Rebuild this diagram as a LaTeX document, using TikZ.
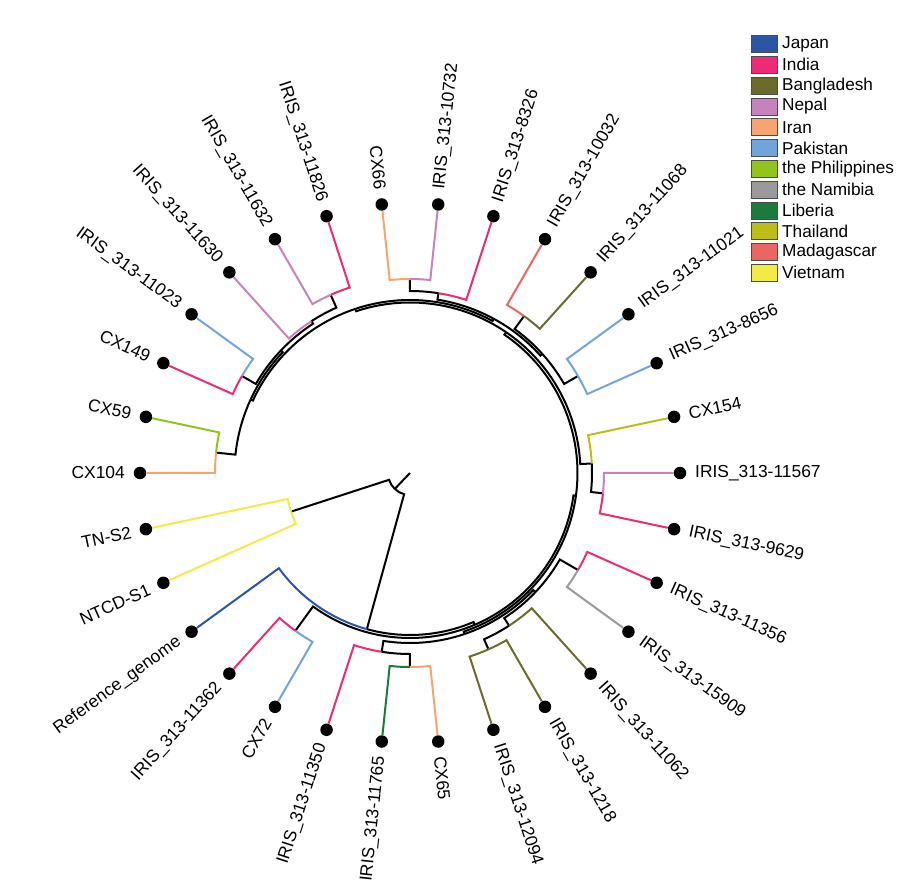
\documentclass[tikz,border=0pt]{standalone}
\usepackage{fontspec}
\setmainfont{Liberation Sans}
\definecolor{japan}{HTML}{2B55A5}
\definecolor{india}{HTML}{EC2A78}
\definecolor{bangla}{HTML}{6B6B2B}
\definecolor{nepal}{HTML}{C682BA}
\definecolor{iran}{HTML}{F7A570}
\definecolor{pakistan}{HTML}{72A4DC}
\definecolor{phil}{HTML}{92C41E}
\definecolor{namibia}{HTML}{9A9A9A}
\definecolor{liberia}{HTML}{1B7A3C}
\definecolor{thai}{HTML}{BDBD1A}
\definecolor{madag}{HTML}{EA6663}
\definecolor{vietnam}{HTML}{F4EA45}

\begin{document}
\begin{tikzpicture}[x=1pt, y=1pt,
  br/.style={line width=2pt},
  leafdot/.style={circle, fill=black, minimum size=12.5pt, inner sep=0pt},
  leaflab/.style={font=\fontsize{17.4}{20}\selectfont, inner sep=0pt},
  keybox/.style={draw=black!70, line width=0.7pt, minimum width=26pt,
    minimum height=17pt, inner sep=0pt},
  keytext/.style={font=\fontsize{17.2}{20}\selectfont, anchor=west, inner sep=0pt}]
  \useasboundingbox (-410,-416) rectangle (498,473);

  % tips, on the outer circle
  \foreach \a/\n/\t in {96/cx66/CX66, 108/i11826/IRIS\_313-11826,
      120/i11632/IRIS\_313-11632, 132/i11630/IRIS\_313-11630,
      144/i11023/IRIS\_313-11023, 156/cx149/CX149, 168/cx59/CX59,
      180/cx104/CX104, 192/tns2/TN-S2, 204/ntcd/NTCD-S1,
      216/ref/Reference\_genome, 228/i11362/IRIS\_313-11362, 240/cx72/CX72,
      252/i11350/IRIS\_313-11350, 264/i11765/IRIS\_313-11765, 276/cx65/CX65,
      288/i12094/IRIS\_313-12094, 300/i1218/IRIS\_313-1218,
      312/i11062/IRIS\_313-11062, 324/i15909/IRIS\_313-15909,
      336/i11356/IRIS\_313-11356, 348/i9629/IRIS\_313-9629,
      360/i11567/IRIS\_313-11567, 372/cx154/CX154, 384/i8656/IRIS\_313-8656,
      396/i11021/IRIS\_313-11021, 408/i11068/IRIS\_313-11068,
      420/i10032/IRIS\_313-10032, 432/i8326/IRIS\_313-8326,
      444/i10732/IRIS\_313-10732}{
    \node[leafdot] (\n) at (\a:270) {};
    \pgfmathtruncatemacro\flip{and(mod(\a,360)>90, mod(\a,360)<270)}
    \ifnum\flip=1
      \node[leaflab, anchor=east, rotate=\a-180] (\n-lab) at (\a:285) {\t};
    \else
      \node[leaflab, anchor=west, rotate=\a] (\n-lab) at (\a:285) {\t};
    \fi
  }

  % inner nodes (angle : radius)
  \coordinate (ctr) at (0,0);
  \foreach \n/\a/\r in {nR/226.3/22, nY/198/125, nN0/254.55/162, nN1/293.1/165,
      nN2/352.2/167.5, nP/288.75/170, nP2/316.5/173, nQ/415.7/170.5,
      nQ2/468.4/173, nR1/421.5/175.5, nR2/515.25/175.5, nEF/402/178,
      nHI/496.5/178, nK/234/195, nA/261/181, nA2/270/194, nB/303/182,
      nB2/294/193, nC/330/194, nD/363/182, nD2/354/194, nE/390/194,
      nF/414/194, nG/441/182, nG2/450/194, nH/483/181, nH2/474/195,
      nI/510/194, nJ/534/195}
    \coordinate (\n) at (\a:\r);

  \draw[br] (ctr) -- (nR);
  % branches: parent / its angle / its radius / child angle / child / colour
  \foreach \p/\tp/\rp/\tc/\ch/\col in {
      nR/226.3/22/198/nY/black, nR/226.3/22/254.55/nN0/black,
      nY/198/125/192/tns2/vietnam, nY/198/125/204/ntcd/vietnam,
      nN0/254.55/162/216/ref/japan, nN0/254.55/162/293.1/nN1/black,
      nN1/293.1/165/234/nK/black, nN1/293.1/165/352.2/nN2/black,
      nK/234/195/228/i11362/india, nK/234/195/240/cx72/pakistan,
      nN2/352.2/167.5/288.75/nP/black, nN2/352.2/167.5/415.7/nQ/black,
      nP/288.75/170/261/nA/black, nP/288.75/170/316.5/nP2/black,
      nA/261/181/252/i11350/india, nA/261/181/270/nA2/black,
      nA2/270/194/264/i11765/liberia, nA2/270/194/276/cx65/iran,
      nP2/316.5/173/303/nB/black, nP2/316.5/173/330/nC/black,
      nB/303/182/294/nB2/black, nB/303/182/312/i11062/bangla,
      nB2/294/193/288/i12094/bangla, nB2/294/193/300/i1218/bangla,
      nC/330/194/324/i15909/namibia, nC/330/194/336/i11356/india,
      nQ/415.7/170.5/363/nD/black, nQ/415.7/170.5/468.4/nQ2/black,
      nD/363/182/354/nD2/black, nD/363/182/372/cx154/thai,
      nD2/354/194/348/i9629/india, nD2/354/194/360/i11567/nepal,
      nQ2/468.4/173/421.5/nR1/black, nQ2/468.4/173/515.25/nR2/black,
      nR1/421.5/175.5/402/nEF/black, nR1/421.5/175.5/441/nG/black,
      nEF/402/178/390/nE/black, nEF/402/178/414/nF/black,
      nE/390/194/384/i8656/pakistan, nE/390/194/396/i11021/pakistan,
      nF/414/194/408/i11068/bangla, nF/414/194/420/i10032/madag,
      nG/441/182/432/i8326/india, nG/441/182/450/nG2/black,
      nG2/450/194/444/i10732/nepal, nG2/450/194/456/cx66/iran,
      nR2/515.25/175.5/496.5/nHI/black, nR2/515.25/175.5/534/nJ/black,
      nHI/496.5/178/483/nH/black, nHI/496.5/178/510/nI/black,
      nH/483/181/474/nH2/black, nH/483/181/492/i11630/nepal,
      nH2/474/195/468/i11826/india, nH2/474/195/480/i11632/nepal,
      nI/510/194/504/i11023/pakistan, nI/510/194/516/cx149/india,
      nJ/534/195/528/cx59/phil, nJ/534/195/540/cx104/iran}
    \draw[br, draw=\col] (\p) arc[start angle=\tp, end angle=\tc, radius=\rp] -- (\ch);

  % legend
  \foreach \c/\t [count=\k from 0] in {japan/Japan, india/India,
      bangla/Bangladesh, nepal/Nepal, iran/Iran, pakistan/Pakistan,
      phil/the Philippines, namibia/the Namibia, liberia/Liberia,
      thai/Thailand, madag/Madagascar, vietnam/Vietnam}{
    \node[keybox, fill=\c] (key-\c) at (354, 429-20.8*\k) {};
    \node[keytext] (keylab-\c) at (372, 429-20.8*\k) {\t};
  }
\end{tikzpicture}
\end{document}
